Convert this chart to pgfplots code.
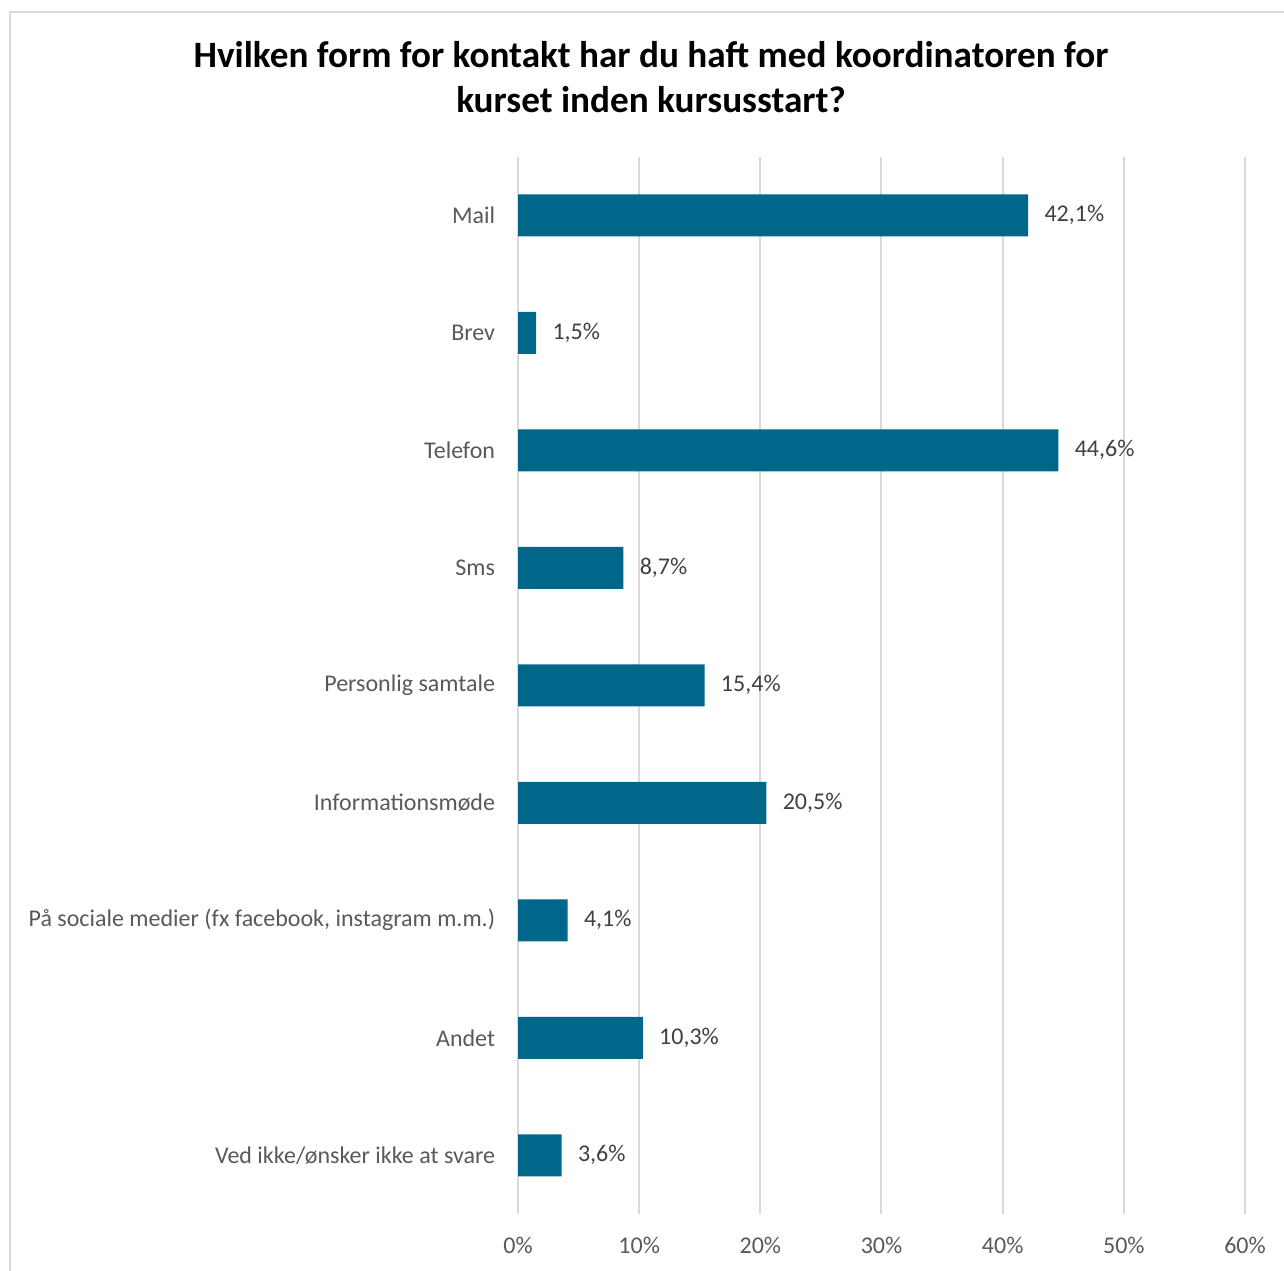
\documentclass[border=0pt]{standalone}
\usepackage{fontspec}
\setmainfont{Carlito}
\usepackage{pgfplots}
\pgfplotsset{compat=1.18}
\definecolor{barc}{RGB}{0,103,138}
\definecolor{gridc}{RGB}{217,217,217}
\definecolor{txt}{RGB}{89,89,89}
\definecolor{lbl}{RGB}{64,64,64}
\begin{document}
\begin{tikzpicture}
\path[use as bounding box] (0pt,0pt) rectangle (642pt,-635pt);
\draw[gridc, line width=1pt] (4.75pt,-640pt) -- (4.75pt,-6pt) -- (650pt,-6pt);
\node[align=center, font=\fontsize{18.6}{22.5}\selectfont\bfseries, text=black] at (325.5pt,-38.5pt)
  {Hvilken form for kontakt har du haft med koordinatoren for\\kurset inden kursusstart?};
\begin{axis}[
  at={(259pt,-607pt)}, anchor=south west,
  width=363.5pt, height=528.75pt, scale only axis,
  xbar, bar width=21pt,
  xmin=0, xmax=60, ymin=-0.5, ymax=8.5, y dir=reverse,
  axis line style={draw=none},
  xmajorgrids, grid style={gridc, line width=1pt},
  tick style={draw=none},
  xtick={0,10,20,30,40,50,60},
  xticklabels={0\%,10\%,20\%,30\%,40\%,50\%,60\%},
  ytick={0,1,2,3,4,5,6,7,8},
  yticklabels={Mail,Brev,Telefon,Sms,Personlig samtale,Informationsmøde,{På sociale medier (fx facebook, instagram m.m.)},Andet,Ved ikke/ønsker ikke at svare},
  yticklabel style={anchor=east, inner sep=0pt, xshift=-7pt, text=txt, font=\fontsize{12}{14}\selectfont},
  xticklabel style={anchor=center, inner sep=0pt, yshift=-15.5pt, text=txt, font=\fontsize{12}{14}\selectfont},
  point meta=x,
  nodes near coords={\pgfmathprintnumber[fixed, fixed zerofill, precision=1, use comma, assume math mode=true]{\pgfplotspointmeta}\%},
  every node near coord/.append style={anchor=west, inner sep=0pt, xshift=8pt, text=lbl, font=\fontsize{12}{14}\selectfont},
]
\addplot[fill=barc, draw=none] coordinates {
(42.1,0) (1.5,1) (44.6,2) (8.7,3) (15.4,4) (20.5,5) (4.1,6) (10.3,7) (3.6,8)
};
\end{axis}
\end{tikzpicture}
\end{document}
